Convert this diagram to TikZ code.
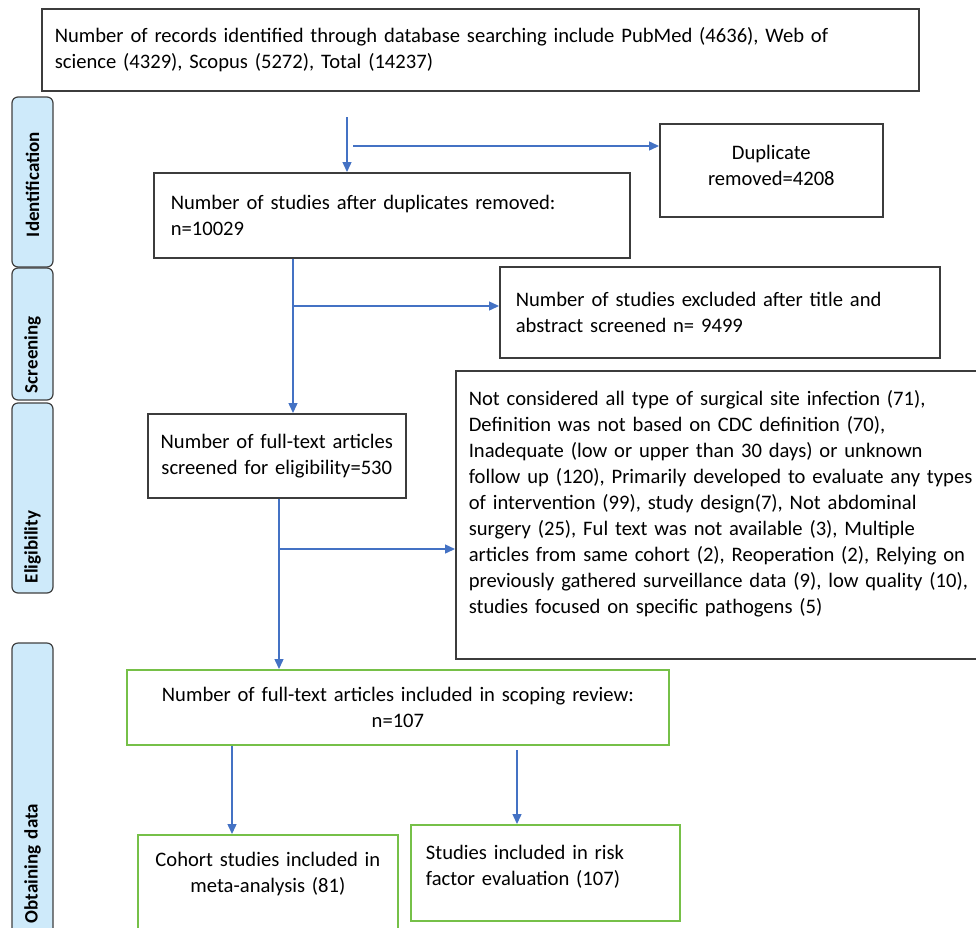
\documentclass[tikz,border=0pt]{standalone}
\usepackage{fontspec}
\setmainfont{Carlito}
\usetikzlibrary{arrows.meta}
\definecolor{boxgray}{RGB}{60,60,60}
\definecolor{boxgreen}{RGB}{118,192,72}
\definecolor{flowblue}{RGB}{68,114,196}
\definecolor{phaseblue}{RGB}{206,234,250}

\begin{document}
\begin{tikzpicture}[x=1pt,y=-1pt,
  flowbox/.style={draw=boxgray,line width=1.6pt,anchor=north west,inner ysep=0pt,
    font=\fontsize{20.6}{26}\selectfont},
  greenbox/.style={flowbox,draw=boxgreen,line width=1.8pt},
  phase/.style={draw=black!75,fill=phaseblue,line width=1.2pt,rounded corners=6pt,
    rotate=90,minimum height=41pt,inner ysep=0pt,align=left,
    font=\fontsize{19}{22}\selectfont\bfseries},
  flowarrow/.style={draw=flowblue,line width=1.4pt,-{Triangle[length=10pt,width=9pt]}}]
  \useasboundingbox (0,0) rectangle (976,927);
  \clip (0,0) rectangle (976,927);

  % phase labels on the left
  \node[phase,minimum width=170pt,inner xsep=30pt,text width=110pt] (ident) at (32.5,182) {Identification};
  \node[phase,minimum width=132pt,inner xsep=7pt,text width=118pt] (screen) at (32.5,334) {Screening};
  \node[phase,minimum width=190pt,inner xsep=10pt,text width=170pt] (elig) at (32.5,498) {Eligibility};
  \node[phase,minimum width=320pt,inner xsep=40pt,text width=240pt] (obtain) at (32.5,803) {Obtaining data};

  % boxes
  \node[flowbox,minimum width=877pt,minimum height=82pt,inner xsep=13pt,text width=851pt,align=left]
    (records) at (41,8) {Number of records identified through database searching include PubMed (4636), Web of\\
    science (4329), Scopus (5272), Total (14237)};
  \node[flowbox,minimum width=223pt,minimum height=93pt,inner xsep=8pt,text width=207pt,align=center]
    (dup) at (659,123) {Duplicate\\ removed=4208\\[-16pt]\mbox{}};
  \node[flowbox,minimum width=476pt,minimum height=85pt,inner xsep=17pt,text width=442pt,align=left]
    (afterdup) at (153,172) {Number of studies after duplicates removed:\\ n=10029};
  \node[flowbox,minimum width=440pt,minimum height=91pt,inner xsep=16pt,text width=408pt,align=left]
    (screened) at (499,266) {Number of studies excluded after title and\\ abstract screened n= 9499};
  \node[flowbox,minimum width=258pt,minimum height=84pt,inner xsep=6pt,text width=246pt,align=center]
    (fulltext) at (147,413) {Number of full-text articles\\ screened for eligibility=530};
  \node[flowbox,minimum width=540pt,minimum height=288pt,inner xsep=13pt,text width=514pt,align=left]
    (excluded) at (455,370) {Not considered all type of surgical site infection (71),\\
    Definition was not based on CDC definition (70),\\
    Inadequate (low or upper than 30 days) or unknown\\
    follow up (120), Primarily developed to evaluate any types\\
    of intervention (99), study design(7), Not abdominal\\
    surgery (25), Ful text was not available (3), Multiple\\
    articles from same cohort (2), Reoperation (2), Relying on\\
    previously gathered surveillance data (9), low quality (10),\\
    studies focused on specific pathogens (5)\\ \mbox{}};
  \node[greenbox,minimum width=542pt,minimum height=75pt,inner xsep=8pt,text width=526pt,align=center]
    (included) at (126,669) {Number of full-text articles included in scoping review:\\ n=107};
  \node[greenbox,minimum width=260pt,minimum height=110pt,inner xsep=8pt,text width=244pt,align=center]
    (cohort) at (137,834) {Cohort studies included in\\ meta-analysis (81)\\[10pt]\mbox{}};
  \node[greenbox,minimum width=269pt,minimum height=96pt,inner xsep=15pt,text width=239pt,align=left]
    (riskfactor) at (410,824) {Studies included in risk\\ factor evaluation (107)\\[-10pt]\mbox{}};

  % connectors
  \coordinate (s1) at (347,117);
  \coordinate (b1) at (353,146);
  \coordinate (b2) at (293,306);
  \coordinate (b3) at (279,549);
  \coordinate (s4) at (517,750);
  \draw[flowarrow] (s1) -- (s1 |- afterdup.north);
  \draw[flowarrow] (b1) -- (dup.west |- b1);
  \draw[flowarrow] (afterdup.south -| b2) -- (b2 |- fulltext.north);
  \draw[flowarrow] (b2) -- (screened.west |- b2);
  \draw[flowarrow] (fulltext.south -| b3) -- (b3 |- included.north);
  \draw[flowarrow] (b3) -- (excluded.west |- b3);
  \draw[flowarrow] (included.south -| 232,0) -- (232,0 |- cohort.north);
  \draw[flowarrow] (s4) -- (s4 |- riskfactor.north);
\end{tikzpicture}
\end{document}
